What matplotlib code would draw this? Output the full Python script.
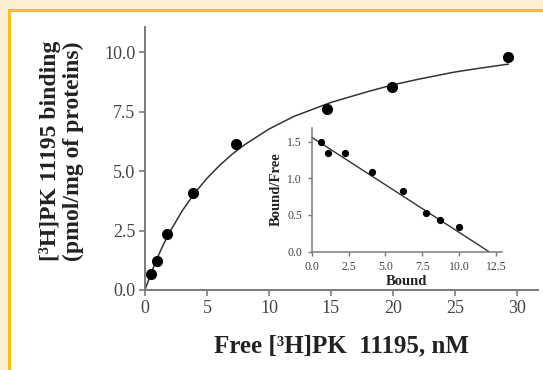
import matplotlib
matplotlib.use("Agg")
import matplotlib.pyplot as plt
from matplotlib.patches import Rectangle

# ---- data ----
free_nM = [0.45, 0.93, 1.79, 3.86, 7.38, 14.65, 19.96, 29.3]
bound = [0.66, 1.22, 2.34, 4.09, 6.13, 7.63, 8.54, 9.82]

fit_x = [0, 0.25, 0.5, 1, 1.5, 2, 3, 4, 5, 6, 7, 8, 10, 12, 15, 18, 20, 22, 25, 27, 29.3]
fit_y = [0, 0.37, 0.72, 1.36, 1.93, 2.44, 3.33, 4.07, 4.70, 5.23, 5.70, 6.10, 6.77,
         7.30, 7.89, 8.35, 8.63, 8.86, 9.17, 9.33, 9.50]

scat_bound = [0.60, 1.13, 2.28, 4.10, 6.18, 7.72, 8.72, 9.99]
scat_bf = [1.50, 1.35, 1.34, 1.08, 0.83, 0.52, 0.43, 0.34]
scat_line_x = [0.0, 12.0]
scat_line_y = [1.56, 0.0]

main_xticks = [0, 5, 10, 15, 20, 25, 30]
main_yticks = [0.0, 2.5, 5.0, 7.5, 10.0]
inset_xticks = [0.0, 2.5, 5.0, 7.5, 10.0, 12.5]
inset_yticks = [0.0, 0.5, 1.0, 1.5]

plt.rcParams['font.family'] = ['Liberation Serif', 'DejaVu Serif']

W, H = 543, 370
fig = plt.figure(figsize=(W / 100, H / 100), dpi=100)
fig.patch.set_facecolor('white')

# frame decoration: cream band + gold rule (top and left)
cream = '#FCEFD3'
gold = '#F5BE1F'
fig.patches.append(Rectangle((0, 1 - 9 / H), 1, 9 / H, transform=fig.transFigure,
                             facecolor=cream, edgecolor='none', zorder=0))
fig.patches.append(Rectangle((0, 0), 8 / W, 1, transform=fig.transFigure,
                             facecolor=cream, edgecolor='none', zorder=0))
fig.patches.append(Rectangle((8 / W, 0), 3 / W, 1 - 9 / H, transform=fig.transFigure,
                             facecolor=gold, edgecolor='none', zorder=1))
fig.patches.append(Rectangle((8 / W, 1 - 12 / H), 1 - 8 / W, 3 / H, transform=fig.transFigure,
                             facecolor=gold, edgecolor='none', zorder=1))

spine_col = '#7a7a7a'
tick_col = '#444444'

def px_axes(l, t, r, b):
    return fig.add_axes([l / W, 1 - b / H, (r - l) / W, (b - t) / H])

# ---- main axes ----
ax = px_axes(145, 27.3, 538, 290)
ax.set_facecolor('none')
ax.plot(fit_x, fit_y, color='#333333', lw=1.1, zorder=2)
ax.plot(free_nM, bound, 'o', color='black', ms=7, zorder=3)
ax.set_xlim(0, 31.7)
ax.set_ylim(0, 11.05)
ax.set_xticks(main_xticks)
ax.set_xticklabels([str(v) for v in main_xticks])
ax.set_yticks(main_yticks)
ax.set_yticklabels([f"{v:.1f}" for v in main_yticks])
for s in ['top', 'right']:
    ax.spines[s].set_visible(False)
for s in ['left', 'bottom']:
    ax.spines[s].set_color(spine_col)
    ax.spines[s].set_linewidth(1.4)
ax.tick_params(direction='out', length=4, width=1.2, color=spine_col,
               labelsize=13, labelcolor=tick_col, pad=3)
ax.set_xlabel('Free [³H]PK  11195, nM', fontsize=18, fontweight='bold',
              color='#222222', labelpad=13)
ax.set_ylabel('[³H]PK 11195 binding\n(pmol/mg of proteins)', fontsize=17,
              fontweight='bold', color='#222222', linespacing=1.1)
ax.yaxis.set_label_coords(-0.155, 0.53)

# ---- inset (Scatchard) ----
ins = px_axes(311.7, 127.7, 502, 251.5)
ins.set_facecolor('none')
ins.plot(scat_line_x, scat_line_y, color='#333333', lw=1.0, zorder=2)
ins.plot(scat_bound, scat_bf, 'o', color='black', ms=4.2, zorder=3)
ins.set_xlim(0, 12.9)
ins.set_ylim(0, 1.69)
ins.set_xticks(inset_xticks)
ins.set_xticklabels([f"{v:.1f}" for v in inset_xticks])
ins.set_yticks(inset_yticks)
ins.set_yticklabels([f"{v:.1f}" for v in inset_yticks])
for s in ['top', 'right']:
    ins.spines[s].set_visible(False)
for s in ['left', 'bottom']:
    ins.spines[s].set_color(spine_col)
    ins.spines[s].set_linewidth(1.1)
ins.tick_params(direction='out', length=3, width=1.0, color=spine_col,
                labelsize=8.5, labelcolor=tick_col, pad=4)
ins.set_xlabel('Bound', fontsize=10.5, fontweight='bold', color='#222222', labelpad=1)
ins.set_ylabel('Bound/Free', fontsize=10.5, fontweight='bold', color='#222222', labelpad=3)

fig.savefig('out.png', dpi=100, facecolor=fig.get_facecolor())
